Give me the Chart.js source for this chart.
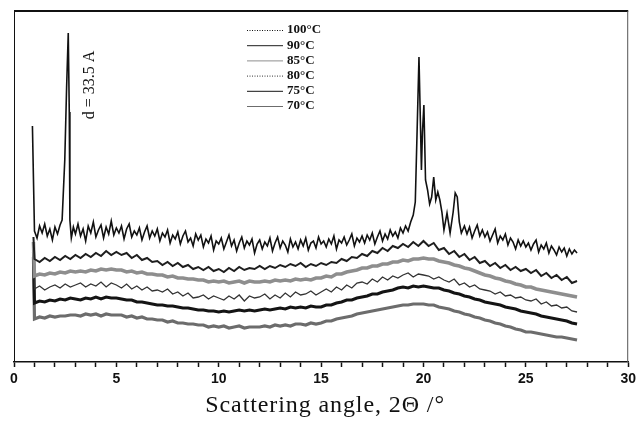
<!DOCTYPE html>
<html>
<head>
<meta charset="utf-8">
<script src="https://cdn.jsdelivr.net/npm/chart.js@4.4.1/dist/chart.umd.min.js"></script>
<style>
  html, body { margin: 0; padding: 0; background: #fff; }
  #wrap { width: 640px; height: 423px; }
</style>
</head>
<body>
<div id="wrap"><canvas id="xrd"></canvas></div>
<script>
// scattering angle grid shared by the five smooth curves (2Theta, deg)
const angles = [0.95,
  1.0, 1.25, 1.5, 1.75, 2.0, 2.25, 2.5, 2.75, 3.0,
  3.25, 3.5, 3.75, 4.0, 4.25, 4.5, 4.75, 5.0,
  5.25, 5.5, 5.75, 6.0, 6.25, 6.5, 6.75, 7.0,
  7.25, 7.5, 7.75, 8.0, 8.25, 8.5, 8.75, 9.0,
  9.25, 9.5, 9.75, 10.0,
  10.25, 10.5, 10.75, 11.0, 11.25, 11.5, 11.75, 12.0,
  12.25, 12.5, 12.75, 13.0, 13.25, 13.5, 13.75, 14.0,
  14.25, 14.5, 14.75, 15.0,
  15.25, 15.5, 15.75, 16.0, 16.25, 16.5, 16.75, 17.0,
  17.25, 17.5, 17.75, 18.0, 18.25, 18.5, 18.75, 19.0,
  19.25, 19.5, 19.75, 20.0,
  20.25, 20.5, 20.75, 21.0,
  21.25, 21.5, 21.75, 22.0, 22.25, 22.5, 22.75, 23.0,
  23.25, 23.5, 23.75, 24.0, 24.25, 24.5, 24.75, 25.0,
  25.25, 25.5, 25.75, 26.0, 26.25, 26.5, 26.75, 27.0, 27.25, 27.5];

// top trace is sampled finer and has extra points around the Bragg peaks
const anglesTop = [0.9,
  1.0, 1.125, 1.25, 1.375, 1.5, 1.625, 1.75, 1.875, 2.0, 2.125, 2.25,
  2.35, 2.48, 2.57, 2.65, 2.7, 2.73, 2.8, 2.9, 3.0,
  3.125, 3.25, 3.375, 3.5, 3.625, 3.75, 3.875, 4.0,
  4.125, 4.25, 4.375, 4.5, 4.625, 4.75, 4.875, 5.0,
  5.125, 5.25, 5.375, 5.5, 5.625, 5.75, 5.875, 6.0,
  6.125, 6.25, 6.375, 6.5, 6.625, 6.75, 6.875, 7.0,
  7.125, 7.25, 7.375, 7.5, 7.625, 7.75, 7.875, 8.0,
  8.125, 8.25, 8.375, 8.5, 8.625, 8.75, 8.875, 9.0,
  9.125, 9.25, 9.375, 9.5, 9.625, 9.75, 9.875, 10.0,
  10.125, 10.25, 10.375, 10.5, 10.625, 10.75, 10.875, 11.0,
  11.125, 11.25, 11.375, 11.5, 11.625, 11.75, 11.875, 12.0,
  12.125, 12.25, 12.375, 12.5, 12.625, 12.75, 12.875, 13.0,
  13.125, 13.25, 13.375, 13.5, 13.625, 13.75, 13.875, 14.0,
  14.125, 14.25, 14.375, 14.5, 14.625, 14.75, 14.875, 15.0,
  15.125, 15.25, 15.375, 15.5, 15.625, 15.75, 15.875, 16.0,
  16.125, 16.25, 16.375, 16.5, 16.625, 16.75, 16.875, 17.0,
  17.125, 17.25, 17.375, 17.5, 17.625, 17.75, 17.875, 18.0,
  18.125, 18.25, 18.375, 18.5, 18.625, 18.75, 18.875, 19.0,
  19.125, 19.25, 19.375, 19.5,
  19.6, 19.7, 19.78, 19.85, 19.9, 19.95, 20.02, 20.1, 20.2, 20.3, 20.4, 20.5,
  20.6, 20.7, 20.8, 20.9, 21.0, 21.15, 21.3, 21.45, 21.55, 21.65, 21.75, 21.85, 22.0,
  22.125, 22.25, 22.375, 22.5, 22.625, 22.75, 22.875, 23.0,
  23.125, 23.25, 23.375, 23.5, 23.625, 23.75, 23.875, 24.0,
  24.125, 24.25, 24.375, 24.5, 24.625, 24.75, 24.875, 25.0,
  25.125, 25.25, 25.375, 25.5, 25.625, 25.75, 25.875, 26.0,
  26.125, 26.25, 26.375, 26.5, 26.625, 26.75, 26.875, 27.0,
  27.125, 27.25, 27.375, 27.5];

const labels = ['100°C', '90°C', '85°C', '80°C', '75°C', '70°C'];

// intensities, arbitrary units (curves stacked with offsets)
const i100 = [236,
  131, 124, 136, 129, 138, 126, 133, 122, 135, 128, 137,
  142, 202, 275, 329, 250, 142, 124, 135, 128,
  138, 126, 133, 121, 136, 129, 140, 125,
  132, 137, 124, 135, 128, 141, 127, 134,
  129, 136, 123, 133, 138, 125, 131, 127,
  134, 122, 130, 136, 124, 131, 126, 133,
  121, 129, 125, 132, 119, 127, 123, 130,
  118, 126, 131, 120, 124, 116, 128, 122,
  127, 115, 123, 119, 126, 112, 121, 118,
  124, 113, 120, 127, 116, 122, 111, 119,
  125, 114, 121, 117, 123, 109, 118, 122,
  113, 120, 116, 124, 111, 119, 125, 114,
  121, 117, 110, 123, 115, 120, 113, 122,
  116, 124, 112, 119, 121, 114, 125, 118,
  121, 115, 123, 118, 126, 113, 122, 119,
  125, 117, 122, 128, 116, 124, 120, 126,
  119, 127, 122, 129, 118, 125, 131, 121,
  128, 123, 132, 126, 130, 124, 134, 129,
  136, 131, 140, 147,
  160, 240, 305, 240, 192, 230, 257, 182, 172, 158, 165, 185,
  162, 170, 162, 150, 132, 149, 129, 150, 169, 165, 140, 129, 136,
  128, 135, 124, 131, 137, 126, 132, 125,
  130, 121, 127, 133, 119, 126, 122, 128,
  117, 124, 120, 113, 122, 116, 121, 115,
  119, 112, 118, 122, 110, 117, 113, 119,
  109, 116, 112, 107, 115, 110, 114, 106,
  113, 108, 112, 109];

const i90 = [125,
  103, 100, 104, 101, 105, 102, 106, 103, 107,
  104, 108, 105, 109, 106, 111, 107, 110,
  107, 109, 104, 107, 102, 104, 100, 101,
  97, 100, 96, 99, 95, 97, 93, 95,
  92, 95, 91, 93,
  90, 94, 91, 95, 92, 94, 93, 96,
  93, 96, 94, 97, 95, 98, 96, 99,
  95, 98, 96, 99,
  97, 100, 99, 103, 101, 105, 104, 108,
  106, 111, 109, 114, 111, 116, 114, 118,
  115, 120, 116, 121,
  116, 119, 112, 114,
  108, 111, 105, 108, 102, 105, 99, 101,
  96, 99, 94, 97, 92, 95, 91, 93,
  89, 92, 86, 89, 84, 87, 82, 85, 79, 81];

const i85 = [120,
  86, 88, 87, 89, 88, 90, 89, 91, 90,
  91, 90, 92, 91, 93, 92, 93, 92,
  92, 90, 91, 89, 90, 88, 88, 87,
  87, 85, 86, 84, 84, 83, 83, 82,
  82, 80, 81, 80,
  81, 79, 80, 81, 79, 81, 80, 80,
  81, 80, 82, 81, 82, 81, 83, 82,
  83, 82, 84, 84,
  86, 85, 88, 88, 90, 91, 92, 94,
  94, 96, 96, 98, 98, 100, 100, 102,
  101, 103, 103, 104,
  103, 103, 101, 100,
  99, 97, 96, 94, 93, 91, 89, 87,
  86, 84, 83, 81, 80, 78, 77, 75,
  75, 73, 72, 71, 70, 69, 68, 67, 66, 65];

const i80 = [115,
  73, 76, 72, 75, 77, 74, 78, 75, 77,
  79, 75, 78, 76, 80, 75, 79, 77,
  74, 78, 73, 76, 72, 75, 71, 72,
  70, 73, 68, 70, 66, 69, 64, 65,
  67, 63, 66, 64,
  62, 66, 63, 67, 61, 66, 64, 65,
  68, 63, 67, 64, 69, 65, 70, 67,
  68, 71, 67, 70,
  73, 70, 75, 72, 77, 74, 79, 80,
  78, 83, 80, 85, 82, 86, 84, 87,
  89, 85, 88, 87,
  86, 83, 85, 82,
  80, 83, 77, 79, 75, 77, 73, 72,
  71, 68, 70, 66, 67, 64, 65, 62,
  61, 63, 58, 60, 56, 57, 54, 55, 51, 50];

const i75 = [110,
  59, 61, 60, 62, 61, 63, 62, 64, 63,
  62, 64, 63, 65, 63, 65, 64, 64,
  63, 62, 62, 60, 60, 59, 58, 57,
  57, 56, 56, 55, 54, 54, 53, 52,
  52, 51, 51, 50,
  51, 50, 51, 52, 51, 52, 51, 52,
  53, 52, 53, 54, 53, 55, 54, 55,
  54, 56, 55, 55,
  57, 57, 59, 60, 62, 62, 64, 65,
  66, 68, 68, 70, 71, 72, 74, 75,
  74, 76, 75, 76,
  75, 74, 74, 72,
  71, 69, 68, 66, 65, 63, 62, 60,
  59, 58, 57, 55, 54, 53, 51, 50,
  49, 48, 46, 45, 44, 43, 42, 41, 39, 38];

const i70 = [105,
  43, 45, 44, 46, 45, 46, 46, 47, 47,
  46, 48, 47, 48, 46, 48, 47, 47,
  47, 45, 46, 44, 45, 43, 43, 42,
  42, 40, 41, 39, 39, 38, 38, 37,
  37, 35, 36, 35,
  36, 34, 35, 36, 34, 35, 35, 35,
  36, 35, 37, 36, 37, 36, 38, 38,
  37, 39, 38, 39,
  41, 41, 43, 44, 45, 46, 48, 49,
  50, 51, 52, 53, 54, 55, 56, 57,
  57, 58, 58, 58,
  57, 57, 55, 54,
  53, 51, 50, 48, 47, 45, 44, 42,
  41, 39, 38, 36, 35, 33, 32, 30,
  30, 29, 28, 27, 26, 25, 25, 24, 23, 22];

const xTicks = [0, 5, 10, 15, 20, 25, 30];

const pts = (xs, ys) => xs.map((x, i) => ({ x: x, y: ys[i] }));

const series = [
  { data: pts(anglesTop, i100), color: '#111111', width: 1.6, dash: [1, 1.5] },
  { data: pts(angles, i90), color: '#1e1e1e', width: 2, dash: [] },
  { data: pts(angles, i85), color: '#8e8e8e', width: 3.5, dash: [] },
  { data: pts(angles, i80), color: '#333333', width: 1.3, dash: [1, 1.5] },
  { data: pts(angles, i75), color: '#141414', width: 3, dash: [] },
  { data: pts(angles, i70), color: '#6c6c6c', width: 3.2, dash: [] }
];

// legend drawn inside the plot, serif like the original
const legendBox = {
  id: 'legendBox',
  afterDraw(chart) {
    const ctx = chart.ctx;
    ctx.save();
    ctx.font = 'bold 13px "Liberation Serif", serif';
    ctx.textBaseline = 'middle';
    chart.data.datasets.forEach((ds, i) => {
      const y = 30 + i * 15.2;
      ctx.strokeStyle = ds.borderColor;
      ctx.lineWidth = 1;
      ctx.setLineDash(ds.legendDash || []);
      ctx.beginPath();
      ctx.moveTo(247, y + 0.5);
      ctx.lineTo(283, y + 0.5);
      ctx.stroke();
      ctx.setLineDash([]);
      ctx.fillStyle = '#111';
      ctx.fillText(ds.label, 287, y);
    });
    ctx.restore();
  }
};

// frame, axis title and the d-spacing note next to the low angle peak
const frame = {
  id: 'frame',
  afterDraw(chart) {
    const { ctx, chartArea: a, scales } = chart;
    ctx.save();
    ctx.strokeStyle = '#111';
    ctx.lineWidth = 2;
    ctx.beginPath();
    ctx.moveTo(a.left, a.top);
    ctx.lineTo(a.right, a.top);
    ctx.stroke();
    ctx.lineWidth = 1;
    ctx.beginPath();
    ctx.moveTo(a.left + 0.5, a.top);
    ctx.lineTo(a.left + 0.5, a.bottom);
    ctx.stroke();
    ctx.strokeStyle = '#555';
    ctx.beginPath();
    ctx.moveTo(a.right - 0.5, a.top);
    ctx.lineTo(a.right - 0.5, a.bottom);
    ctx.stroke();

    ctx.fillStyle = '#111';
    ctx.font = '24px "Liberation Serif", serif';
    ctx.letterSpacing = '0.9px';
    ctx.textAlign = 'center';
    ctx.textBaseline = 'alphabetic';
    ctx.fillText('Scattering angle, 2Θ /°', (scales.x.left + scales.x.right) / 2 + 4, 412);
    ctx.letterSpacing = '0px';

    ctx.translate(scales.x.getPixelForValue(3.7), 85);
    ctx.rotate(-Math.PI / 2);
    ctx.font = '16px "Liberation Serif", serif';
    ctx.textBaseline = 'middle';
    ctx.fillText('d = 33.5 A', 0, 0);
    ctx.restore();
  }
};

new Chart(document.getElementById('xrd'), {
  type: 'line',
  data: {
    datasets: series.map((s, i) => ({
      label: labels[i],
      data: s.data,
      borderColor: s.color,
      borderWidth: s.width,
      legendDash: s.dash,
      pointRadius: 0,
      tension: 0,
      fill: false
    }))
  },
  options: {
    responsive: true,
    maintainAspectRatio: false,
    animation: false,
    layout: { padding: { left: 14, right: 10, top: 11, bottom: 0 } },
    plugins: { legend: { display: false }, tooltip: { enabled: false } },
    scales: {
      x: {
        type: 'linear',
        min: 0,
        max: 30,
        afterBuildTicks: (scale) => {
          const t = [];
          for (let v = 0; v <= 30; v++) t.push({ value: v });
          scale.ticks = t;
        },
        afterFit: (scale) => { scale.height = 61; },
        grid: { drawOnChartArea: false, tickLength: 5, color: '#111', tickWidth: 1.5 },
        border: { display: true, color: '#111', width: 1.5 },
        ticks: {
          autoSkip: false,
          maxRotation: 0,
          padding: 4,
          color: '#111',
          font: { family: '"Liberation Sans", Arial', weight: 'bold', size: 14 },
          callback: (v) => (xTicks.includes(v) ? String(v) : '')
        },
        title: { display: false }
      },
      y: { display: false, min: 0, max: 351 }
    }
  },
  plugins: [frame, legendBox]
});
</script>
</body>
</html>
